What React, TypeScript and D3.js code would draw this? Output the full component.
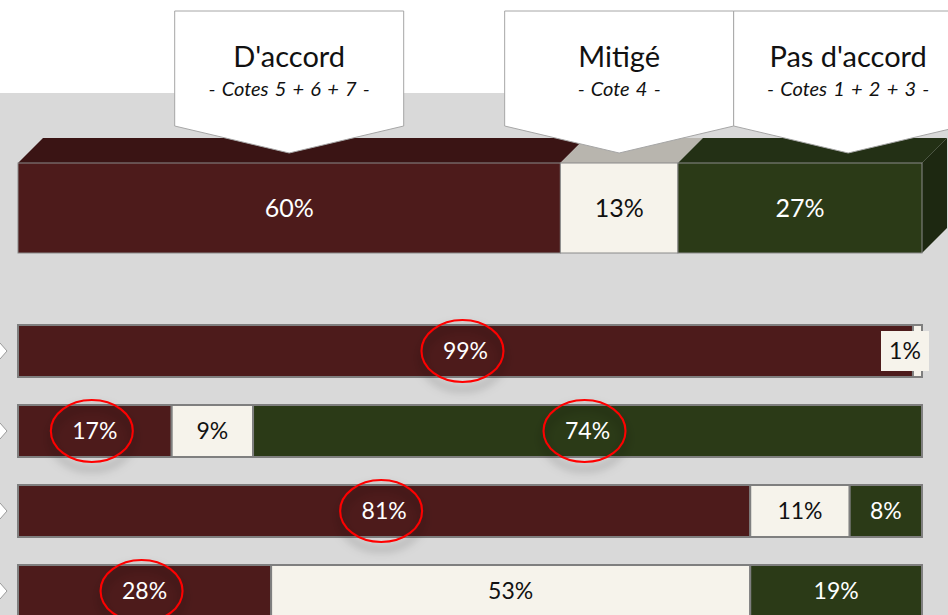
import React from 'react';
import * as d3 from 'd3';

// Répartition globale et par question (en %)
const categories = ["D'accord", 'Mitigé', "Pas d'accord"];
const subtitles = ['- Cotes 5 + 6 + 7 -', '- Cote 4 -', '- Cotes 1 + 2 + 3 -'];
const keys = ['agree', 'mixed', 'disagree'];
const overall = [60, 13, 27];
const rowAgree = [99, 17, 81, 28];
const rowMixed = [1, 9, 11, 53];
const rowDisagree = [0, 74, 8, 19];
// segments entourés en rouge
const circled = [
  [true, false, false],
  [true, false, true],
  [true, false, false],
  [true, false, false],
];

const W = 948;
const H = 615;
const FILL = ['#4d1b1b', '#f6f3eb', '#2b3a17'];
const TOP_FILL = ['#3a1414', '#b8b5ae', '#233015'];
const SIDE_FILL = '#1d2811';
const TEXT_FILL = ['#ffffff', '#111111', '#ffffff'];
const FONT = 'Lato, "Open Sans", sans-serif';

const DEPTH = 25;
const CALLOUT_W = 229;

export default function App() {
  const x = d3.scaleLinear().domain([0, 100]).range([18, 922]);

  const stack = d3.stack<any>().keys(keys);
  const overallSeries = stack([{ agree: overall[0], mixed: overall[1], disagree: overall[2] }]);
  const rowsData = rowAgree.map((a, i) => ({ agree: a, mixed: rowMixed[i], disagree: rowDisagree[i] }));
  const rowSeries = stack(rowsData);

  const topY0 = 163;
  const topY1 = 253;

  const y = d3
    .scaleBand<number>()
    .domain(d3.range(rowsData.length))
    .range([325, 617])
    .paddingInner(0.35)
    .paddingOuter(0);
  const bh = y.bandwidth();

  // centres des bulles : centre du segment, sans chevauchement
  const centers: number[] = [];
  overallSeries.forEach((s, i) => {
    const c = (x(s[0][0]) + x(s[0][1])) / 2;
    const prev = i > 0 ? centers[i - 1] + CALLOUT_W : -Infinity;
    centers.push(Math.max(c, prev));
  });

  return (
    <div style={{ position: 'fixed', left: 0, top: 0 }}>
      <svg width={W} height={H} style={{ display: 'block', fontFamily: FONT }}>
        <defs>
          <filter id="shadow" x="-30%" y="-30%" width="160%" height="180%">
            <feDropShadow dx="0" dy="7" stdDeviation="5" floodColor="#000" floodOpacity="0.5" />
          </filter>
        </defs>
        <rect width={W} height={H} fill="#ffffff" />
        <rect y={93} width={W} height={H - 93} fill="#d9d9d9" />

        {/* barre 3D globale */}
        <g>
          {overallSeries.map((s, i) => {
            const x0 = x(s[0][0]);
            const x1 = x(s[0][1]);
            return (
              <polygon
                key={'t' + i}
                points={`${x0},${topY0} ${x1},${topY0} ${x1 + DEPTH},${topY0 - DEPTH} ${x0 + DEPTH},${topY0 - DEPTH}`}
                fill={TOP_FILL[i]}
              />
            );
          })}
          <polygon
            points={`${x(100)},${topY0} ${x(100) + DEPTH},${topY0 - DEPTH} ${x(100) + DEPTH},${topY1 - DEPTH} ${x(100)},${topY1}`}
            fill={SIDE_FILL}
          />
          {overallSeries.map((s, i) => {
            const x0 = x(s[0][0]);
            const x1 = x(s[0][1]);
            return (
              <g key={'f' + i}>
                <rect x={x0} y={topY0} width={x1 - x0} height={topY1 - topY0} fill={FILL[i]} stroke="#8a8a8a" strokeWidth={1} />
                <text
                  x={(x0 + x1) / 2}
                  y={(topY0 + topY1) / 2}
                  dy="0.36em"
                  textAnchor="middle"
                  fontSize={25}
                  fill={TEXT_FILL[i]}
                >
                  {s[0][1] - s[0][0]}%
                </text>
              </g>
            );
          })}
        </g>

        {/* bulles d'en-tête */}
        {categories.map((c, i) => {
          const cx = centers[i];
          const x0 = cx - CALLOUT_W / 2;
          const x1 = cx + CALLOUT_W / 2;
          return (
            <g key={c}>
              <path
                d={`M${x0},11 H${x1} V126 L${cx},153 L${x0},126 Z`}
                fill="#ffffff"
                stroke="#a6a6a6"
                strokeWidth={1}
              />
              <text x={cx} y={67} textAnchor="middle" fontSize={29} fill="#111">
                {c}
              </text>
              <text x={cx} y={96} textAnchor="middle" fontSize={20} fontStyle="italic" fill="#111" wordSpacing={1.5}>
                {subtitles[i]}
              </text>
            </g>
          );
        })}

        {/* barres par question */}
        {rowsData.map((_, r) => {
          const cy = (y(r) as number) + bh / 2;
          return (
            <polygon
              key={'m' + r}
              points={`-10,${cy - 8} 0,${cy - 8} 7,${cy} 0,${cy + 8} -10,${cy + 8}`}
              fill="#ffffff"
              stroke="#9a9a9a"
              strokeWidth={1}
            />
          );
        })}
        {rowSeries.map((s, i) =>
          s.map((d, r) => {
            const v = d[1] - d[0];
            if (v <= 0) return null;
            const x0 = x(d[0]);
            const x1 = x(d[1]);
            return (
              <rect
                key={`r${i}-${r}`}
                x={x0}
                y={y(r)}
                width={x1 - x0}
                height={bh}
                fill={FILL[i]}
                stroke="#7f7f7f"
                strokeWidth={2}
              />
            );
          })
        )}
        {rowSeries.map((s, i) =>
          s.map((d, r) => {
            const v = d[1] - d[0];
            if (v <= 0) return null;
            const x0 = x(d[0]);
            const x1 = x(d[1]);
            const cy = (y(r) as number) + bh / 2;
            const narrow = x1 - x0 < 30;
            const lx = narrow ? Math.min((x0 + x1) / 2, x(100) - 17) : (x0 + x1) / 2;
            return (
              <g key={`l${i}-${r}`}>
                {narrow && <rect x={lx - 24} y={cy - 20} width={48} height={40} fill={FILL[i]} />}
                <text x={lx} y={cy} dy="0.36em" textAnchor="middle" fontSize={23} fill={TEXT_FILL[i]}>
                  {v}%
                </text>
                {circled[r][i] && (
                  <ellipse
                    cx={(x0 + x1) / 2 - 3}
                    cy={cy}
                    rx={41}
                    ry={31}
                    fill="none"
                    stroke="#ff0000"
                    strokeWidth={2}
                    filter="url(#shadow)"
                  />
                )}
              </g>
            );
          })
        )}
      </svg>
    </div>
  );
}
